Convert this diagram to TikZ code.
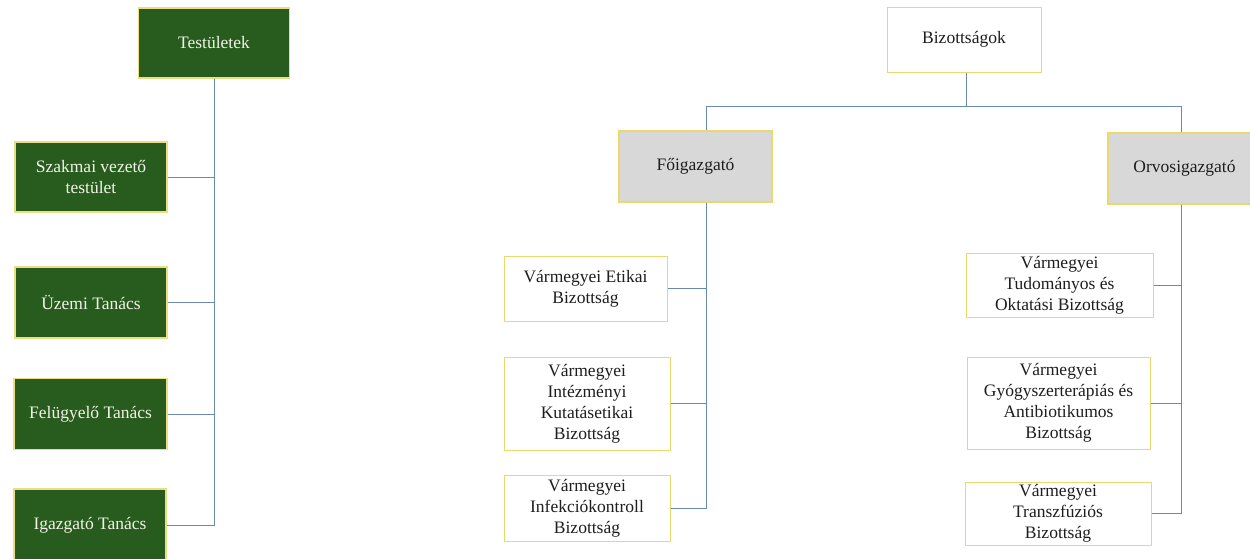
\documentclass[tikz,border=0pt]{standalone}
\usepackage{fontspec}
\setmainfont{Liberation Serif}
\definecolor{dgreen}{RGB}{40,92,30}
\definecolor{gborder}{RGB}{236,220,130}
\definecolor{gtext}{RGB}{242,242,230}
\definecolor{ylborder}{RGB}{236,216,110}
\definecolor{boxgray}{RGB}{216,216,216}
\definecolor{linecol}{RGB}{106,137,173}
\definecolor{txt}{RGB}{30,30,30}
\begin{document}
\begin{tikzpicture}[x=1pt,y=-1pt,
  greenbox/.style={draw=gborder,line width=1.2pt,fill=dgreen,text=gtext,align=center,inner sep=0pt,
    font=\fontsize{17.5}{21}\selectfont},
  whitebox/.style={draw=ylborder,line width=1pt,fill=white,text=txt,align=center,inner sep=0pt,
    font=\fontsize{17.5}{21}\selectfont},
  graybox/.style={draw=ylborder,line width=1.2pt,fill=boxgray,text=txt,align=center,inner sep=0pt,
    font=\fontsize{17.5}{21}\selectfont},
  conn/.style={draw=linecol,line width=0.9pt}]
\useasboundingbox (0,0) rectangle (1250,558);
\fill[white] (0,0) rectangle (1250,558);

% Left tree
\node[greenbox,minimum width=151pt,minimum height=70pt] (test) at (214,43) {Testületek};
\node[greenbox,minimum width=152pt,minimum height=70pt] (szak) at (91,177) {Szakmai vezető\\testület};
\node[greenbox,minimum width=152pt,minimum height=71pt] (uzem) at (91,302.5) {Üzemi Tanács};
\node[greenbox,minimum width=153pt,minimum height=71pt] (felu) at (90.5,414) {Felügyelő Tanács};
\node[greenbox,minimum width=152pt,minimum height=72pt] (igaz) at (90,525) {Igazgató Tanács};

\draw[conn] (test.south) |- (igaz.east);
\draw[conn] (szak.east) -- (szak.east -| test.south);
\draw[conn] (uzem.east) -- (uzem.east -| test.south);
\draw[conn] (felu.east) -- (felu.east -| test.south);

% Right tree
\node[whitebox,minimum width=154pt,minimum height=65pt] (biz) at (964,39.5) {Bizottságok};
\node[graybox,minimum width=153pt,minimum height=71pt] (foi) at (695.5,166.5) {Főigazgató};
\node[graybox,minimum width=153pt,minimum height=71pt] (orv) at (1184.5,168.5) {Orvosigazgató};

\coordinate (bspine) at (966,106);
\coordinate (fspine) at (706,106);
\coordinate (ospine) at (1181,106);
\draw[conn] (biz.south -| bspine) -- (bspine);
\draw[conn] (fspine) -- (ospine);
\draw[conn] (fspine) -- (fspine |- foi.north);
\draw[conn] (ospine) -- (ospine |- orv.north);

\node[whitebox,minimum width=163pt,minimum height=65pt] (etik) at (585.5,288.5) {Vármegyei Etikai\\Bizottság};
\node[whitebox,minimum width=166pt,minimum height=93pt] (kuta) at (587,403.5) {Vármegyei\\Intézményi\\Kutatásetikai\\Bizottság};
\node[whitebox,minimum width=166pt,minimum height=66pt] (infe) at (587,508) {Vármegyei\\Infekciókontroll\\Bizottság};

\node[whitebox,minimum width=187pt,minimum height=64pt] (tudo) at (1059.5,285) {Vármegyei\\Tudományos és\\Oktatási Bizottság};
\node[whitebox,minimum width=183pt,minimum height=92pt] (gyog) at (1058.5,403) {Vármegyei\\Gyógyszerterápiás és\\Antibiotikumos\\Bizottság};
\node[whitebox,minimum width=186pt,minimum height=63pt] (tran) at (1058,513.5) {Vármegyei\\Transzfúziós\\Bizottság};

\draw[conn] (foi.south -| fspine) |- (infe.east);
\draw[conn] (etik.east) -- (etik.east -| fspine);
\draw[conn] (kuta.east) -- (kuta.east -| fspine);

\draw[conn] (orv.south -| ospine) |- (tran.east);
\draw[conn] (tudo.east) -- (tudo.east -| ospine);
\draw[conn] (gyog.east) -- (gyog.east -| ospine);
\end{tikzpicture}
\end{document}
